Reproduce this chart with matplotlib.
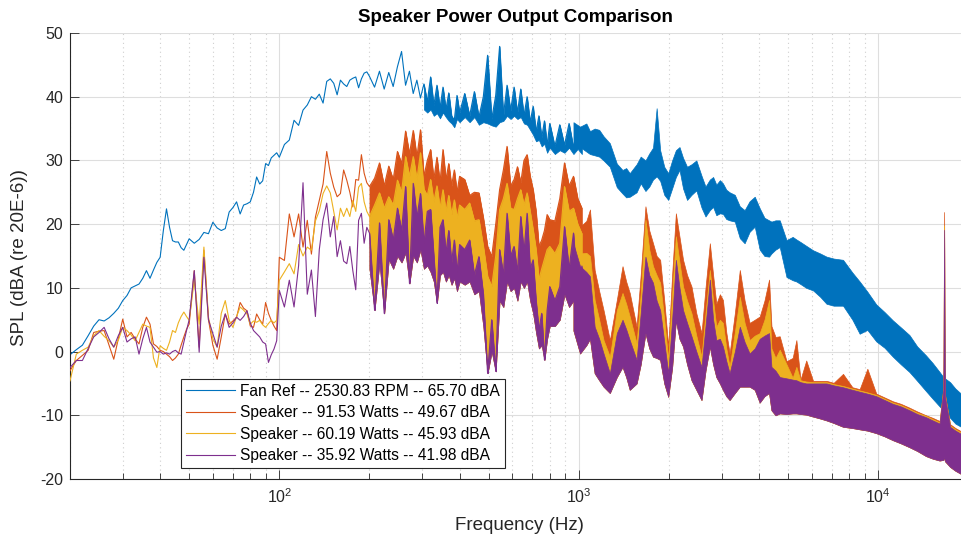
import matplotlib
matplotlib.use("Agg")
import matplotlib.pyplot as plt
from matplotlib.lines import Line2D
from matplotlib.ticker import LogLocator, NullFormatter, FixedLocator, FixedFormatter

plt.rcParams['font.family'] = ['Liberation Sans', 'DejaVu Sans']
plt.rcParams['mathtext.default'] = 'regular'
plt.rcParams['axes.unicode_minus'] = False

# --- line part of each spectrum (20 Hz - 1 kHz), dB values ---
line_freq = [20, 21, 22, 23, 24, 25, 26, 27, 28, 29, 30, 31, 32, 33, 34, 35, 36, 37, 38, 39,
             40, 41, 42, 43, 44, 45, 46, 47, 48, 49, 50,
             52, 54, 56, 58, 60, 62, 64, 66, 68, 70, 72, 74, 76, 78, 80, 82, 84, 86, 88, 90,
             92, 94, 96, 98, 100,
             104, 108, 112, 116, 120, 124, 128, 132, 136, 140, 144, 148, 152, 156, 160, 164,
             168, 172, 176, 180, 184, 188, 192, 196, 200,
             208, 216, 224, 232, 240, 248, 256, 264, 272, 280, 288, 296, 304, 312, 320, 328,
             336, 344, 352, 360, 368, 376, 384, 392, 400,
             416, 432, 448, 464, 480, 496, 512, 528, 544, 560, 576, 592, 608, 624, 640, 656,
             672, 688, 704, 720, 736, 752, 768, 784, 800,
             832, 864, 896, 928, 960, 992, 1024]

fan_line = [-0.5, 0.3, 1.0, 2.5, 4.0, 5.0, 4.8, 5.3, 6.0, 6.8, 8.0, 8.8, 10.0, 10.3, 10.6, 11.5,
            12.7, 11.5, 12.8, 14.0, 14.8, 19.0, 22.4, 19.5, 17.4, 17.2, 17.2, 16.3, 15.9, 16.8, 17.7,
            17.0, 17.6, 18.7, 18.5, 20.3, 19.4, 19.0, 19.3, 21.9, 22.6, 23.5, 21.6, 23.0, 23.2, 23.5,
            25.0, 27.4, 26.3, 26.8, 29.5, 29.2, 30.4, 30.8, 31.2, 30.5,
            32.5, 33.2, 36.3, 35.5, 37.9, 38.7, 40.0, 39.6, 40.4, 39.0, 42.4, 42.8, 42.1, 40.3, 42.6,
            42.0, 41.6, 42.6, 42.9, 43.1, 41.4, 42.8, 43.7, 43.9, 43.2,
            41.5, 44.0, 41.2, 43.8, 41.6, 44.7, 47.1, 41.8, 44.0, 40.5, 42.6, 39.8, 42.0, 39.2, 43.1,
            38.6, 41.8, 38.2, 41.5, 38.0, 40.6, 37.0, 36.3, 40.2, 37.5,
            40.5, 37.0, 40.8, 36.8, 40.0, 46.5, 36.5, 40.2, 47.9, 37.0, 41.8, 37.8, 41.5, 37.5, 41.2,
            37.0, 40.0, 36.0, 38.5, 34.5, 37.0, 33.6, 36.2, 32.4, 35.8,
            32.2, 35.6, 32.4, 35.8, 32.0, 35.4, 31.8]

spk91_line = [-3.0, -1.4, -0.6, 0.2, 3.0, 3.2, 3.3, 1.0, -1.2, 2.0, 5.1, 2.3, 3.0, 2.0, 1.2, 3.8,
              5.4, 4.3, 1.2, 0.8, 0.2, 0.0, -0.4, -0.8, -1.4, -1.0, -0.4, 1.0, 2.3, 3.5, 4.3,
              12.7, 0.7, 15.9, 5.0, 1.0, -1.2, 2.3, 5.9, 4.3, 4.8, 5.4, 7.7, 6.8, 6.4, 4.0, 3.8, 5.9,
              5.0, 4.3, 7.7, 6.0, 4.9, 4.0, 3.3, 14.8,
              14.3, 21.6, 18.0, 21.6, 16.4, 20.6, 15.3, 21.1, 23.7, 26.3, 31.4, 28.0, 25.8, 24.3, 24.8,
              28.5, 26.9, 25.0, 22.7, 27.0, 26.9, 30.9, 28.0, 26.5, 25.9,
              27.2, 29.6, 26.0, 29.1, 27.0, 31.4, 29.5, 34.6, 31.0, 34.7, 30.5, 34.8, 27.5, 30.0, 31.7,
              27.0, 30.5, 26.5, 31.7, 27.0, 29.5, 26.0, 28.5, 25.0, 27.5,
              27.0, 24.5, 25.0, 24.9, 21.0, 16.5, 14.9, 20.0, 25.4, 28.5, 32.2, 26.0, 27.0, 29.0, 26.5,
              30.0, 30.9, 27.5, 25.4, 22.0, 16.5, 17.5, 19.0, 21.5, 20.7,
              20.5, 24.0, 29.6, 26.0, 27.5, 24.0, 22.5]

spk60_line = [-4.6, -0.4, 0.2, 0.7, 2.5, 3.3, 2.4, 1.7, 0.7, 1.8, 3.8, 3.3, 2.6, 1.7, 3.0, 4.3,
              4.0, 3.8, -1.0, -2.5, 0.9, 0.5, 0.2, 1.5, 3.3, 3.0, 4.5, 5.5, 6.2, 5.5, 4.9,
              11.2, 4.3, 16.4, 5.4, 2.0, 0.7, 6.0, 8.0, 4.9, 3.8, 5.5, 7.0, 6.5, 5.9, 4.3, 4.8, 4.6,
              4.9, 4.2, 3.8, 4.4, 4.9, 4.5, 4.9, 11.2,
              12.5, 13.8, 12.2, 16.8, 15.0, 16.4, 15.9, 20.5, 22.1, 24.8, 26.0, 24.9, 22.0, 19.1, 22.5,
              21.2, 22.5, 21.2, 23.7, 22.0, 25.8, 26.4, 23.5, 22.0, 21.2,
              23.0, 24.9, 22.5, 24.3, 23.0, 26.9, 25.0, 30.6, 27.5, 30.6, 27.0, 31.2, 25.5, 24.5, 27.0,
              23.5, 26.0, 22.5, 25.4, 22.0, 24.5, 21.5, 23.8, 21.0, 23.0,
              22.3, 23.3, 20.5, 20.7, 16.5, 11.8, 10.2, 15.0, 22.3, 24.0, 26.4, 22.5, 22.3, 24.0, 25.4,
              23.0, 24.9, 22.0, 19.1, 16.0, 11.3, 13.0, 14.5, 16.0, 16.5,
              15.4, 17.0, 25.9, 22.0, 22.5, 20.0, 18.5]

spk36_line = [-2.5, -1.4, -1.4, 0.5, 2.3, 3.0, 3.8, 2.0, 0.7, 2.5, 3.8, 1.5, 2.0, 2.3, -0.4, 2.0,
              3.8, 1.5, 0.7, -0.1, 0.0, -0.4, -0.2, -0.4, 0.0, 0.2, -0.2, -0.4, 1.5, 3.3, 5.0,
              12.7, -0.1, 14.8, 5.0, 2.8, 0.7, 4.0, 5.9, 3.8, 4.5, 5.4, 4.9, 5.5, 6.4, 4.5, 3.3, 2.8,
              2.3, 1.5, 1.2, -1.7, -0.5, 0.4, 1.7, 9.6,
              7.0, 11.2, 7.0, 13.5, 26.5, 9.0, 12.8, 5.5, 16.0, 20.7, 23.3, 18.0, 21.2, 14.9, 17.4,
              14.2, 13.8, 16.5, 12.7, 9.7, 20.6, 21.7, 17.0, 19.5, 18.6,
              6.5, 20.2, 6.0, 20.7, 17.5, 22.5, 19.0, 25.9, 10.7, 26.4, 21.0, 24.8, 17.0, 22.0, 22.3,
              15.0, 7.6, 19.5, 20.7, 15.5, 19.0, 14.0, 17.5, 12.5, 16.8,
              16.0, 17.5, 12.0, 14.9, 9.0, -3.4, 5.0, -3.1, 16.0, 12.0, 21.7, 15.0, 16.5, 12.5, 21.2,
              15.5, 21.7, 13.0, 14.4, 8.0, 3.4, 6.0, -1.3, 6.5, 10.2,
              8.0, 10.2, 19.6, 13.0, 18.6, 9.0, 13.4]

# lower edge of the dense trace between 304 Hz and 1 kHz (fan) / 200 Hz and 1 kHz (speakers)
fan_mid_lo = [38.0, 37.5, 38.0, 37.0, 37.4, 36.6, 37.5, 36.8, 36.2, 35.8, 35.2, 36.5, 36.0,
              36.8, 36.0, 36.8, 35.6, 36.0, 35.8, 35.5, 35.3, 36.0, 36.2, 37.0, 36.5, 37.0,
              36.5, 36.8, 35.8, 35.6, 34.8, 34.0, 33.0, 33.2, 32.2, 32.6, 31.2, 32.0,
              31.0, 31.6, 31.2, 32.0, 31.0, 31.8, 31.0]
spk36_mid_lo = [13.0, 6.5, 14.0, 6.0, 14.5, 13.0, 15.0, 14.0, 15.5, 10.7, 15.0, 14.0, 16.0,
                13.0, 13.5, 12.5, 11.0, 7.6, 12.0, 12.5, 11.0, 12.0, 10.5, 11.5, 9.5, 11.0,
                10.5, 11.0, 9.0, 9.5, 4.0, -3.4, 0.0, -3.1, 8.0, 7.0, 11.0, 9.5, 10.0,
                8.0, 11.0, 10.0, 11.0, 8.0, 6.0, 3.0, 0.5, 1.0, -1.3, 2.0, 4.0,
                4.0, 5.0, 9.0, 7.0, 8.0, 4.0, 4.0]

# --- dense part (1 kHz - 18.9 kHz): upper / lower envelope of each trace ---
band_freq = [960, 1010, 1060, 1090, 1130, 1170, 1210, 1270, 1340, 1400,
             1440, 1480, 1560, 1610, 1670, 1720, 1770, 1820, 1870, 1930,
             1990, 2050, 2110, 2170, 2230, 2300, 2380, 2470, 2570, 2650,
             2740, 2810, 2880, 2960, 3030, 3110, 3190, 3320, 3450, 3580,
             3720, 3870, 4020, 4170, 4320, 4400, 4540, 4690, 4940, 5180,
             5330, 5500, 5750, 6060, 6400, 6720, 7100, 7630, 8200, 8670,
             9200, 9850, 10500, 11190, 11900, 12710, 13500, 14440, 15200, 16030,
             16500, 16600, 16700, 17380, 18100, 18900]

fan_hi = [36.0, 35.3, 35.8, 34.6, 35.0, 34.8, 33.8, 32.7, 29.5, 28.5,
          28.8, 28.0, 29.4, 30.6, 30.0, 31.1, 32.0, 38.2, 31.6, 29.0,
          28.0, 30.0, 31.6, 32.1, 30.4, 29.0, 29.4, 30.0, 27.6, 25.9,
          27.0, 27.4, 26.2, 26.9, 26.4, 25.4, 25.0, 24.6, 22.8, 22.2,
          23.6, 24.3, 22.5, 21.0, 20.6, 20.4, 20.6, 20.6, 17.5, 18.0,
          17.6, 17.2, 16.6, 15.9, 15.4, 14.9, 14.6, 14.4, 12.4, 11.0,
          9.4, 7.4, 6.2, 4.9, 3.8, 2.6, 0.8, -0.6, -1.8, -3.2,
          -4.0, -2.5, -4.2, -4.8, -5.8, -6.6]
fan_lo = [32.0, 32.1, 31.4, 31.0, 30.8, 30.6, 30.0, 29.0, 25.8, 24.8,
          24.2, 24.3, 25.0, 26.4, 25.2, 25.9, 27.0, 27.5, 26.8, 24.6,
          23.8, 25.6, 27.4, 28.5, 25.6, 23.8, 24.6, 25.3, 22.6, 21.2,
          22.2, 22.7, 21.4, 21.7, 21.6, 20.8, 20.6, 20.4, 17.8, 17.0,
          18.8, 19.6, 16.0, 15.0, 14.9, 15.4, 16.0, 16.4, 11.7, 11.2,
          11.0, 10.6, 10.0, 9.6, 8.6, 7.5, 7.2, 7.2, 5.0, 2.8,
          3.4, 1.6, 0.6, -0.8, -2.0, -3.2, -4.6, -6.2, -7.4, -8.6,
          -9.2, -9.2, -9.4, -10.4, -11.3, -11.8]

spk91_hi = [20.6, 19.6, 20.5, 22.3, 12.8, 9.5, 6.5, 1.8, 8.1, 13.4,
            11.0, 9.2, 3.9, 12.0, 22.8, 19.0, 17.0, 15.0, 14.4, 8.0,
            0.8, 12.0, 21.7, 18.0, 14.4, 12.0, 10.2, 6.0, 2.9, 10.0,
            17.0, 12.0, 7.5, 9.0, 8.1, 3.0, -0.3, 6.0, 12.8, 8.0,
            4.5, 5.0, 5.5, 8.0, 11.3, 4.0, 2.3, 2.4, -1.5, -1.0,
            1.8, -4.4, -1.4, -4.6, -4.6, -4.6, -4.9, -3.5, -5.6, -5.9,
            -2.7, -6.6, -7.2, -7.8, -8.2, -8.8, -9.4, -10.0, -10.4, -10.9,
            -5.6, 21.9, -6.6, -11.4, -12.0, -12.5]

spk60_hi = [17.5, 15.4, 15.5, 15.0, 8.1, 5.0, 1.8, -0.8, 6.5, 9.2,
            7.5, 5.5, 1.3, 9.0, 20.7, 16.0, 13.4, 12.0, 10.8, 5.0,
            -1.3, 9.0, 18.1, 14.0, 10.2, 8.0, 6.0, 2.5, -0.8, 6.0,
            12.8, 8.0, 3.9, 5.0, 4.5, 0.5, -2.4, 3.0, 8.6, 4.5,
            1.8, 2.5, 2.9, 5.0, 8.1, 0.5, -1.0, 0.3, -2.0, -4.1,
            -2.4, -4.5, -4.7, -4.8, -4.8, -4.8, -5.1, -5.4, -5.8, -6.1,
            -6.4, -6.8, -7.4, -8.0, -8.4, -9.0, -9.6, -10.1, -10.6, -11.1,
            -5.8, 19.8, -6.8, -11.6, -12.2, -12.7]

spk36_hi = [16.9, 13.4, 12.5, 11.8, 3.9, 2.0, -0.3, -3.4, 2.9, 5.0,
            3.5, 1.8, -1.3, 6.0, 14.9, 12.0, 10.8, 8.0, 6.5, 1.5,
            -3.4, 5.0, 14.4, 10.0, 6.5, 4.5, 2.4, 0.0, -2.4, 4.0,
            11.3, 5.0, 1.8, 2.0, 0.8, -1.5, -3.4, 0.0, 3.9, 1.5,
            -0.3, 0.5, 2.0, 2.5, 2.9, -2.4, -3.0, -4.0, -4.2, -4.4,
            -4.5, -4.8, -5.0, -5.0, -5.0, -5.0, -5.3, -5.6, -6.0, -6.3,
            -6.6, -7.0, -7.6, -8.2, -8.6, -9.2, -9.8, -10.3, -10.8, -11.3,
            -6.0, 19.1, -7.0, -11.8, -12.4, -12.9]
spk36_lo = [3.3, -0.3, 1.0, 2.0, -3.4, -4.5, -5.5, -6.5, -4.0, -2.4,
            -4.0, -6.0, -5.0, -2.0, 2.9, 0.5, -0.8, -1.0, -1.3, -5.0,
            -7.1, -2.5, 4.9, 2.0, 0.8, -2.0, -4.5, -6.0, -7.6, -3.0,
            0.8, -2.0, -4.0, -5.0, -6.0, -7.0, -7.6, -6.5, -5.5, -5.5,
            -5.5, -6.0, -8.0, -7.0, -6.5, -9.2, -10.0, -9.7, -9.8, -9.7,
            -9.7, -9.8, -9.9, -10.2, -10.5, -10.8, -11.2, -11.8, -12.0, -12.2,
            -12.4, -12.8, -13.3, -13.9, -14.4, -15.0, -15.6, -16.4, -16.8, -17.1,
            -17.0, -16.5, -17.2, -18.1, -18.7, -19.2]

labels = ["Fan Ref -- 2530.83 RPM -- 65.70 dBA",
          "Speaker -- 91.53 Watts -- 49.67 dBA",
          "Speaker -- 60.19 Watts -- 45.93 dBA",
          "Speaker -- 35.92 Watts -- 41.98 dBA"]
colors = ["#0072BD", "#D95319", "#EDB120", "#7E2F8E"]

# (line values, lower edge of dense mid part, index in line_freq where it starts, band lo, band hi)
series = [
    (fan_line, fan_mid_lo, 93, fan_lo, fan_hi),
    (spk91_line, spk36_mid_lo, 80, spk36_lo, spk91_hi),
    (spk60_line, spk36_mid_lo, 80, spk36_lo, spk60_hi),
    (spk36_line, spk36_mid_lo, 80, spk36_lo, spk36_hi),
]

fig = plt.figure(figsize=(9.61, 5.37), dpi=100)
ax = fig.add_axes([70 / 961, 58 / 537, 891 / 961, 446 / 537])

for i, ((line, mid_lo, start, lo, hi), c) in enumerate(zip(series, colors)):
    z = 2 + i
    ax.fill_between(line_freq[start:], mid_lo, line[start:], color=c, lw=0.5, zorder=z)
    ax.fill_between(band_freq, lo, hi, color=c, lw=0.5, zorder=z)
    ax.plot(line_freq, line, color=c, lw=0.8, zorder=z)

ax.set_xscale("log")
ax.set_xlim(20, 18900)
ax.set_ylim(-20, 50)
ax.set_yticks(range(-20, 51, 10))
ax.xaxis.set_major_locator(FixedLocator([100, 1000, 10000]))
ax.xaxis.set_major_formatter(FixedFormatter(["$10^{2}$", "$10^{3}$", "$10^{4}$"]))
ax.xaxis.set_minor_locator(LogLocator(base=10, subs=range(2, 10)))
ax.xaxis.set_minor_formatter(NullFormatter())

ax.set_axisbelow(True)
ax.grid(which="major", color="#dedede", lw=0.8)
ax.xaxis.grid(which="minor", color="#cfcfcf", lw=0.8, ls=(0, (1, 3)))

for s in ["top", "right"]:
    ax.spines[s].set_visible(False)
for s in ["left", "bottom"]:
    ax.spines[s].set_color("#262626")
    ax.spines[s].set_linewidth(0.8)
ax.tick_params(which="both", direction="in", colors="#262626", labelsize=11.5, width=0.6)
ax.tick_params(which="major", length=6.5)
ax.tick_params(which="minor", length=4)
ax.tick_params(axis="y", pad=5)
ax.tick_params(axis="x", pad=6)

fig.text(515 / 961, 1 - 17 / 537, "Speaker Power Output Comparison", ha="center", va="center",
         fontsize=13.5, fontweight="bold", color="black")
fig.text(519 / 961, 1 - 525 / 537, "Frequency (Hz)", ha="center", va="center",
         fontsize=13.5, color="#262626")
fig.text(20 / 961, 1 - 258 / 537, "SPL (dBA (re 20E-6))", ha="center", va="center",
         rotation=90, fontsize=13.5, color="#262626")

handles = [Line2D([], [], color=c, lw=0.8) for c in colors]
leg = ax.legend(handles, labels, loc="lower left", bbox_to_anchor=(0.1246, 0.0247),
                borderaxespad=0, fancybox=False, framealpha=1, edgecolor="#262626",
                fontsize=11.2, handlelength=3.2, handletextpad=0.3, labelspacing=0.42,
                borderpad=0.3)
leg.get_frame().set_linewidth(0.8)
leg.set_zorder(10)

fig.savefig("out.png", dpi=100)
